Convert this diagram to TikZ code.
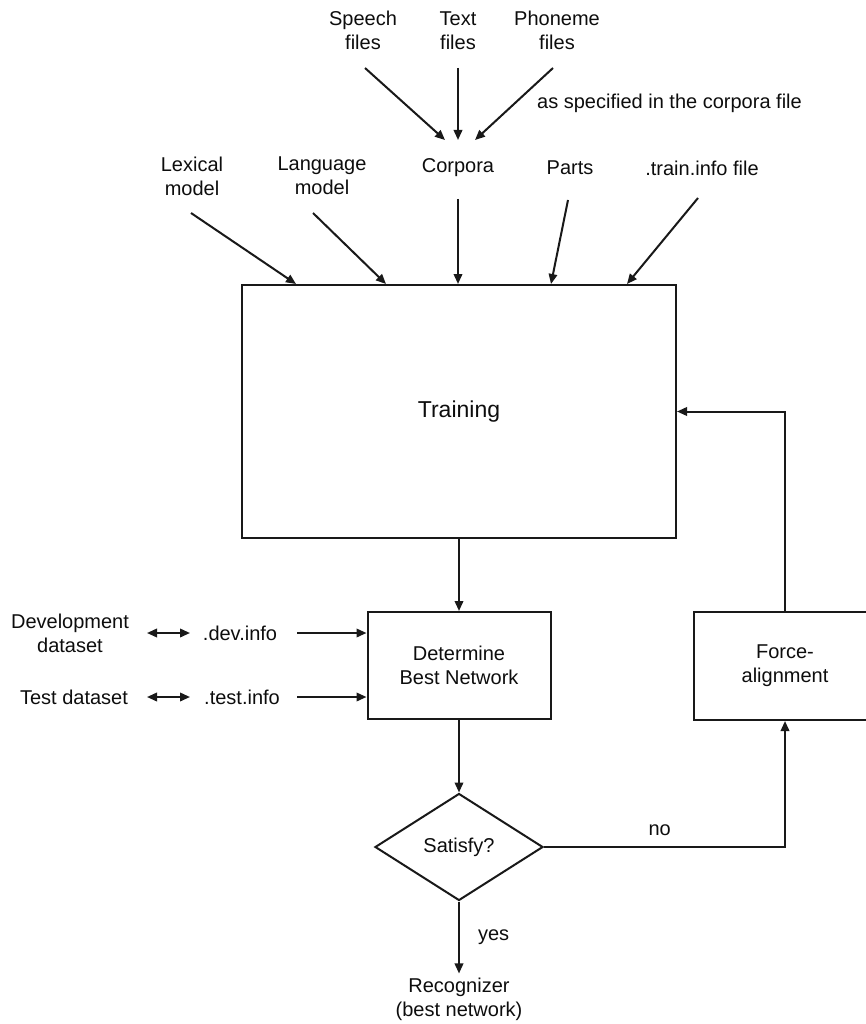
\documentclass[tikz,border=0pt]{standalone}
\usepackage{fontspec}
\setmainfont{Liberation Sans}
\usetikzlibrary{arrows.meta,shapes.geometric,calc}
\begin{document}
\begin{tikzpicture}[x=1pt,y=-1pt,
  lbl/.style={font=\fontsize{20}{24}\selectfont, align=center, inner sep=0pt, text=black!95},
  boxnode/.style={draw=black!90, line width=2pt, align=center, inner sep=0pt,
    font=\fontsize{20}{24}\selectfont, text=black!95},
  arr/.style={draw=black!90, line width=2pt, -{Triangle[length=10pt,width=8.5pt]}},
  darr/.style={draw=black!90, line width=2pt, {Triangle[length=10pt,width=8.5pt]}-{Triangle[length=10pt,width=8.5pt]}},
]
\useasboundingbox (0,0) rectangle (866,1024);
\clip (0,0) rectangle (866,1024);

% top inputs
\node[lbl] (sp) at (363,30.5) {Speech\\files};
\node[lbl] (tx) at (458,30.5) {Text\\files};
\node[lbl] (ph) at (557,30.5) {Phoneme\\files};
\node[lbl, anchor=west] (asspec) at (537,103) {as specified in the corpora file};
\node[lbl] (cor) at (458,168) {Corpora};
\node[lbl] (lex) at (192,176) {Lexical\\model};
\node[lbl] (lang) at (322,176) {Language\\model};
\node[lbl] (parts) at (570,168) {Parts};
\node[lbl] (trinfo) at (702,168) {.train.info file};

% main boxes
\node[boxnode, minimum width=434pt, minimum height=253pt, font=\fontsize{23}{27}\selectfont] (tr) at (459,411.5) {Training};
\node[boxnode, minimum width=183pt, minimum height=107pt] (det) at (459,665.5) {Determine\\Best Network};
\node[boxnode, minimum width=182pt, minimum height=108pt] (fa) at (785,666) {Force-\\alignment};
\node[boxnode, diamond, minimum width=168pt, minimum height=107pt] (sat) at (459,847) {Satisfy?};

% left data
\node[lbl] (devds) at (70,633.5) {Development\\dataset};
\node[lbl] (devinfo) at (240,633) {.dev.info};
\node[lbl] (tds) at (74,697) {Test dataset};
\node[lbl] (testinfo) at (242,697) {.test.info};

% output
\node[lbl] (rec) at (459,999) {Recognizer\\(best network)};

% arrows to corpora
\draw[arr] ($(sp.center)+(2,37.5)$) -- ($(cor.center)+(-13,-28)$);
\draw[arr] ($(tx.center)+(0,37.5)$) -- ($(cor.center)+(0,-28)$);
\draw[arr] ($(ph.center)+(-4,37.5)$) -- ($(cor.center)+(17,-28)$);

% arrows into training
\draw[arr] ($(lex.center)+(-1,37)$) -- ($(tr.north west)+(55,0)$);
\draw[arr] ($(lang.center)+(-9,37)$) -- ($(tr.north west)+(145,0)$);
\draw[arr] ($(cor.center)+(0,31)$) -- (cor |- tr.north);
\draw[arr] ($(parts.center)+(-2,32)$) -- ($(tr.north west)+(310,0)$);
\draw[arr] ($(trinfo.center)+(-4,30)$) -- ($(tr.north west)+(386,0)$);

% flow
\draw[arr] (tr.south) -- (det.north);
\draw[arr] (det.south) -- (sat.north);
\draw[arr] (sat.east) -| node[lbl, pos=0.24, above=10pt] (nolbl) {no} (fa.south);
\draw[arr] (fa.north) |- (tr.east);
\draw[arr] (sat.south) -- node[lbl, midway, right=18pt] (yeslbl) {yes} ($(rec.north)+(0,-4)$);

% datasets
\draw[darr] ($(devds.center)+(77,-0.5)$) -- ($(devinfo.center)+(-50,0)$);
\draw[darr] ($(tds.center)+(73,0)$) -- ($(testinfo.center)+(-52,0)$);
\draw[arr] ($(devinfo.center)+(57,0)$) -- (devinfo -| det.west);
\draw[arr] ($(testinfo.center)+(55,0)$) -- (testinfo -| det.west);
\end{tikzpicture}
\end{document}
